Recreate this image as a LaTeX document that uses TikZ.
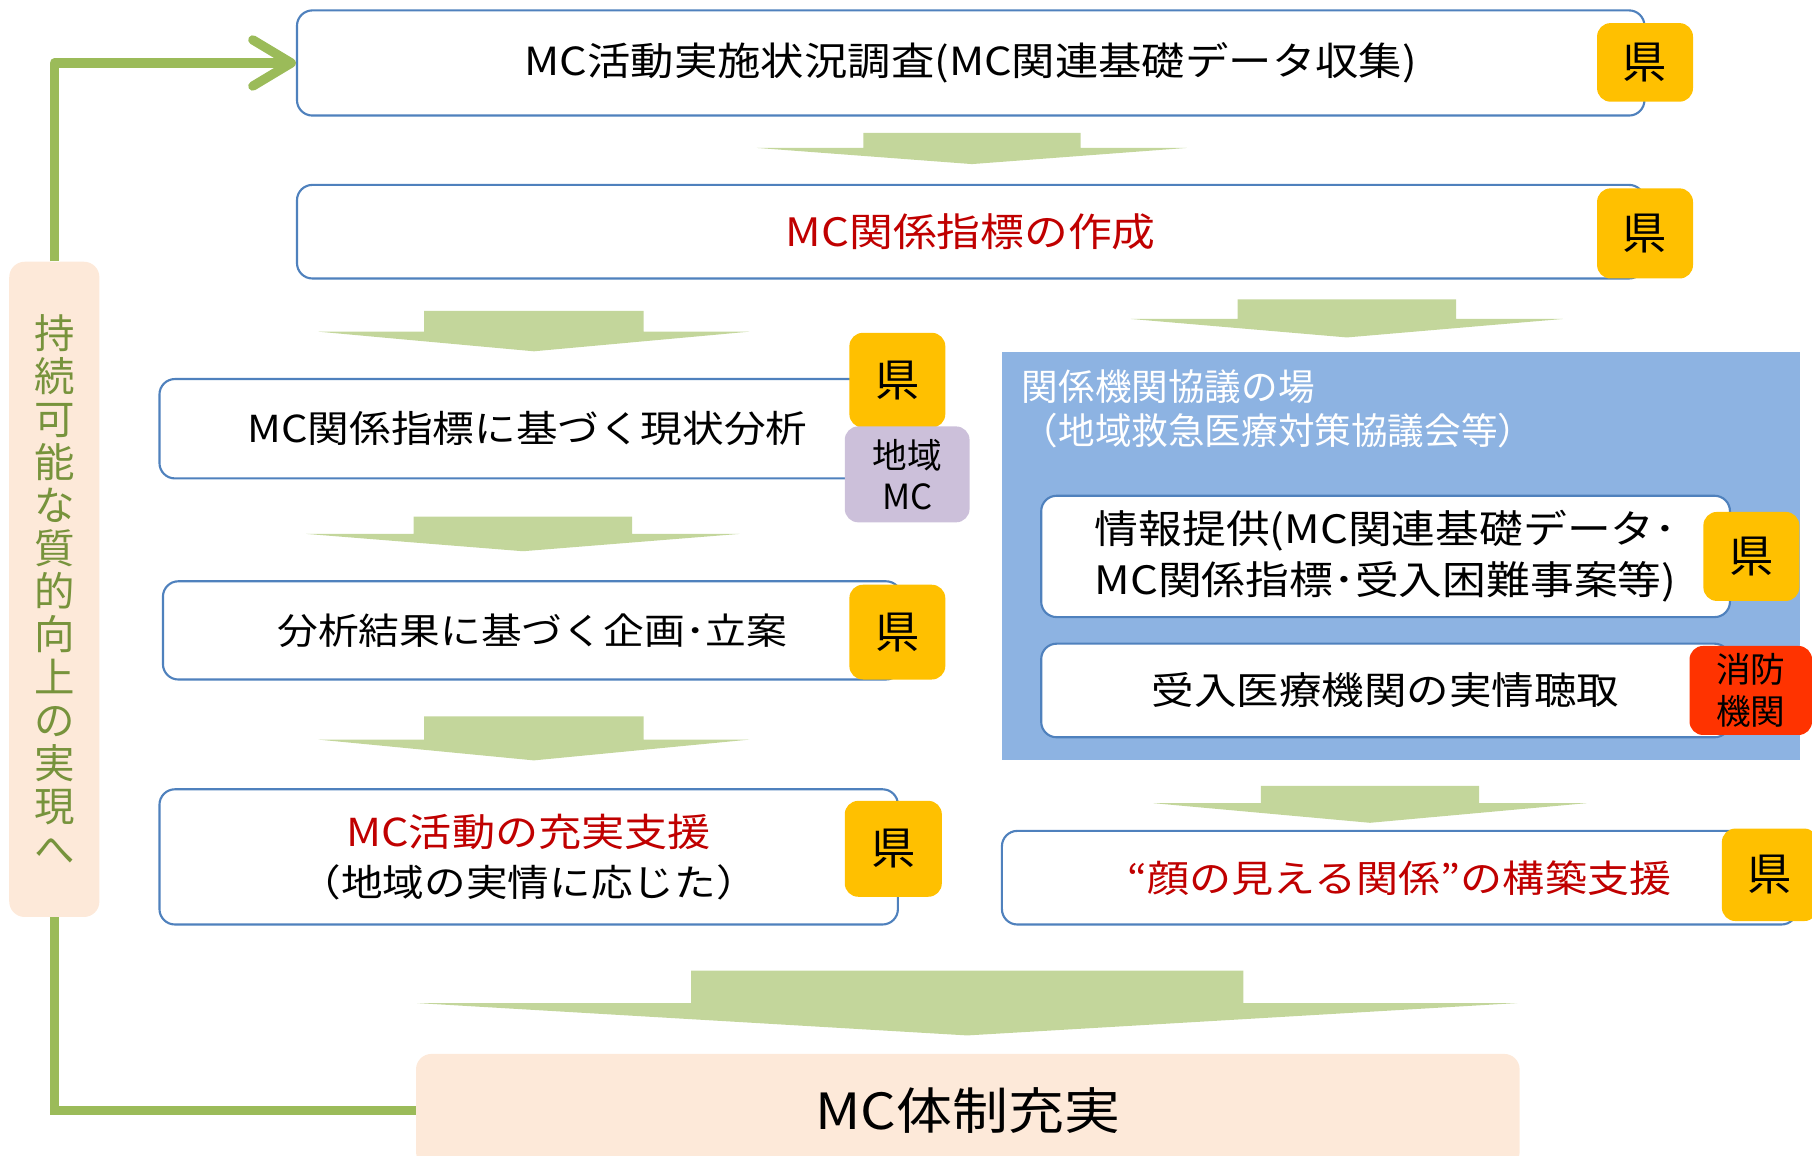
\documentclass[tikz,border=0pt]{standalone}
\usepackage{fontspec}
\setmainfont[FakeStretch=1.12]{Noto Sans CJK JP}
\newfontfamily\plainfont{Noto Sans CJK JP}
\usetikzlibrary{arrows.meta}
\definecolor{bordblue}{HTML}{4F81BD}
\definecolor{kenorange}{HTML}{FFC000}
\definecolor{lav}{HTML}{CCC0DA}
\definecolor{fdred}{HTML}{FF3300}
\definecolor{panelblue}{HTML}{8DB3E2}
\definecolor{arrowgreen}{HTML}{C3D69B}
\definecolor{peach}{HTML}{FDE9D9}
\definecolor{loopgreen}{HTML}{9BBB59}
\definecolor{olive}{HTML}{77933C}
\definecolor{darkred}{HTML}{C00000}
\newcommand\fs[2]{\fontsize{#1}{#2}\selectfont}
\newcommand\blockarrow[6]{%
  \fill[arrowgreen] ({#1-#3},#2) -- ({#1+#3},#2) -- ({#1+#3},#4) -- ({#1+#5},#4)
    -- (#1,#6) -- ({#1-#5},#4) -- ({#1-#3},#4) -- cycle;}
\tikzset{
  sz/.style 2 args={minimum width={(#1)*0.6pt}, minimum height={(#2)*0.6pt}},
  box/.style={draw=bordblue, line width=1.1pt, fill=white, rounded corners=8pt, inner sep=0pt},
  ken/.style={fill=kenorange, rounded corners=7pt, inner sep=0pt, font=\plainfont\fs{23}{23}},
  badge/.style={rounded corners=7pt, inner sep=0pt, align=center, font=\plainfont\fs{18}{21.5}},
  loopline/.style={draw=loopgreen, line width=4.8pt},
}
\begin{document}
\begin{tikzpicture}[x=0.6pt,y=-0.6pt]
\useasboundingbox (0,0) rectangle (1568,1000);

% block arrows
\blockarrow{841}{115}{94}{128}{186}{142}
\blockarrow{462}{269}{95}{287}{186.5}{304}
\blockarrow{1165.5}{259}{94.5}{276}{187}{292}
\blockarrow{452.5}{447}{94.5}{462}{187.5}{477}
\blockarrow{462}{620}{95}{640}{186.5}{658}
\blockarrow{1185.5}{680}{94.5}{695}{187.5}{712}
\blockarrow{837}{840}{239}{868}{476}{896}

% panel
\node[fill=panelblue, inner sep=0pt, sz={691}{353}] (panel) at (1212.5,481.5) {};
\node[anchor=west, inner sep=0pt, text=white, font=\plainfont\fs{19}{19}] (pt1) at (884,335) {関係機関協議の場};
\node[anchor=west, inner sep=0pt, text=white, font=\plainfont\fs{19}{19}] (pt2) at (884,373) {（地域救急医療対策協議会等）};

% main boxes
\node[box, sz={1166}{91}, font=\fs{20.1}{20.1}] (b1) at (840,54.5) {MC活動実施状況調査(MC関連基礎データ収集)};
\node[box, sz={1166}{81}, font=\fs{20.3}{20.3}, text=darkred] (b2) at (840,200.5) {MC関係指標の作成};
\node[box, sz={637}{86}, font=\fs{19.3}{19.3}] (b3) at (456.5,371) {MC関係指標に基づく現状分析};
\node[box, sz={639}{85}, font=\fs{18.9}{18.9}] (b4) at (460.5,545.5) {分析結果に基づく企画･立案};
\node[box, sz={639}{117}, font=\fs{20}{25.8}, align=center] (b5) at (457.5,741.5)
  {\textcolor{darkred}{MC活動の充実支援}\\{\fs{19.3}{25.8}（地域の実情に応じた）}};
\node[box, sz={596}{105}, font=\fs{20.3}{26.4}, align=left] (ia) at (1199,481.5)
  {情報提供(MC関連基礎データ･\\MC関係指標･受入困難事案等)};
\node[box, sz={596}{81}, font=\fs{19.7}{19.7}] (ib) at (1199,597.5) {受入医療機関の実情聴取};
\node[box, sz={688}{81}, font=\fs{19.5}{19.5}, text=darkred] (b6) at (1211,759.5) {“顔の見える関係”の構築支援};
\node[fill=peach, rounded corners=8pt, inner sep=0pt, sz={955}{98}, font=\fs{25.9}{25.9}] (bot) at (837.5,961) {MC体制充実};
\node[fill=peach, rounded corners=8pt, inner sep=0pt, sz={78}{567}, align=center,
  text=olive, font=\plainfont\fs{21}{22.3}] (pill) at (47,510)
  {持\\続\\可\\能\\な\\質\\的\\向\\上\\の\\実\\現\\へ};

% badges
\node[ken, sz={83}{68}] (k1) at (1423.5,54) {県};
\node[ken, sz={83}{78}] (k2) at (1423.5,202) {県};
\node[ken, sz={83}{82}] (k3) at (776.5,329) {県};
\node[badge, fill=lav, sz={108}{83}] (m3) at (785,410.5) {地域\\MC};
\node[ken, sz={83}{82}] (k4) at (776.5,547) {県};
\node[ken, sz={84}{83}] (k5) at (773,734.5) {県};
\node[ken, sz={83}{77}] (ka) at (1515.5,481.5) {県};
\node[badge, fill=fdred, sz={106}{77}] (kb) at (1515,597.5) {消防\\機関};
\node[ken, sz={83}{80}] (k6) at (1531.5,757) {県};

% feedback loop
\draw[loopline] (bot.west) -| (pill.south);
\draw[loopline, line join=round, -{Straight Barb[length=20pt,width=24pt,round]}] (pill.north) |- (b1.west);
\end{tikzpicture}
\end{document}
